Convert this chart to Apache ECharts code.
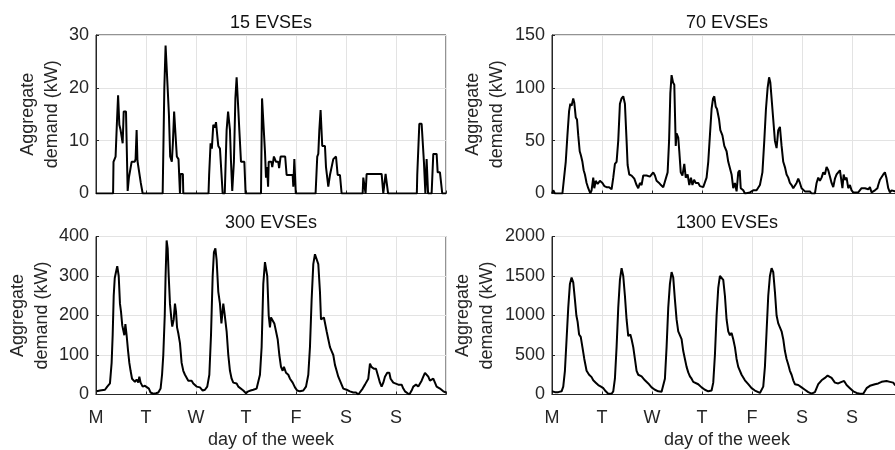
<!DOCTYPE html>
<html>
<head>
<meta charset="utf-8">
<script src="https://cdn.jsdelivr.net/npm/echarts@6/dist/echarts.min.js"></script>
<style>
html,body{margin:0;padding:0;background:#fff;}
#chart{width:895px;height:450px;}
</style>
</head>
<body>
<div id="chart"></div>
<script>
// x values are hours since Monday 00:00
const dayLabels = ['M', 'T', 'W', 'T', 'F', 'S', 'S'];
const panelTitles = ['15 EVSEs', '70 EVSEs', '300 EVSEs', '1300 EVSEs'];
const yMax = [30, 150, 400, 2000];
const yStep = [10, 50, 100, 500];

const demand15 = [
[0,0],[8.2,0],[8.4,6],[9.4,7],[10,13],[10.6,18.6],[11.2,13],[11.8,12],[12.4,12],[12.8,9.5],[13.3,15.5],[14.4,15.5],[14.8,8],[15.2,0.5],[15.8,3],[16.6,3],[17.1,6],[18.6,6],[19.0,6.5],[19.5,12],[19.9,6.2],[20.8,6],[21.5,2],[22.4,0],
[32,0],[32.8,20],[33.4,28],[34.2,28],[35,15],[35.6,7],[36.4,6],[36.9,9.5],[37.5,15.5],[38.3,15.5],[38.8,7],[39.6,6.5],[40.3,0],[40.6,3.7],[41.7,3.7],[41.9,0],
[54,0],[54.3,3.5],[55,9.5],[55.6,8.5],[56.3,13],[57.1,12.5],[57.6,13.5],[58.2,11],[58.7,9],[59.5,8.5],[60.8,0],[61.8,0],[62.7,12],[63.4,15.5],[64,15.5],[64.3,12],[64.8,6],[65.4,0.5],[66.2,6],[66.9,18],[67.5,22],[68.3,16],[68.8,12],[69.6,6],[71.2,6],[71.8,0],
[79.2,0],[79.7,18],[80.5,18],[81.1,8],[81.6,3],[82.1,5],[82.6,1.3],[82.9,6],[84.2,6],[84.6,5],[85.4,7],[86.4,6],[87.5,6],[87.9,4.8],[88.6,7],[90.8,7],[91.5,3.5],[94.4,3.5],[94.7,1.3],[95.2,6.5],[95.9,0],
[105.4,0],[106.2,7],[106.7,7.5],[107.2,12],[107.8,15.8],[108.6,9],[109.9,9],[110.4,5],[111.5,1.3],[112.3,3.5],[113.1,3.5],[113.9,6.5],[115.2,7],[116,3.5],[117.1,3.5],[117.9,0],
[128,0],[128.3,3],[129.1,3],[129.4,0],[129.9,3.7],[137.1,3.7],[137.9,0],[138.7,0],[139,3.7],[139.8,3.7],[140.2,0],
[154,0],[154.2,3.5],[155.2,13.2],[156.3,13.2],[157.4,6],[158.1,0],[158.7,6.5],[159.4,0],[161.1,0],[161.9,7.5],[163.5,7.5],[164,4],[165.1,4],[166.2,0],[168,0]
];

const demand70 = [
[0,0],[0.6,3],[1.4,0],[5.0,0],[5.8,15],[6.6,30],[7.4,55],[8.2,78],[8.8,85],[9.4,83],[10.2,90],[10.7,86],[11.4,72],[12.0,70],[12.6,55],[13.3,40],[13.9,36],[14.6,30],[15.2,22],[15.8,18],[16.6,10],[17.4,5],[18.4,0],
[19.0,3],[19.8,15],[20.3,5],[21.0,12],[21.9,9],[23.0,12],[24.2,10],[25.1,7],[26.2,6],[27.4,6],[28.6,4],[29.4,15],[30.2,28],[31.0,30],[31.8,50],[32.6,85],[33.4,90],[34.2,92],[35.0,85],[35.8,50],[36.3,27],[37.1,18],[38.2,17],[39.5,14],[40.6,8],[41.4,5],
[42.2,10],[43.0,8],[43.8,17],[45.4,17],[47.0,16],[48.6,20],[49.4,17],[50.2,12],[51.4,10],[52.3,8],[53.4,6],[54.2,5],[55.5,20],[56.2,50],[56.8,95],[57.4,112],[58.1,105],[58.7,103],[59.4,45],[59.8,57],[60.6,53],[61.1,40],[61.8,20],[62.6,17],[63.5,28],[64.2,15],[65.1,18],[65.9,8],[66.7,15],[67.4,8],[68.2,13],[69.0,10],[70.2,10],[71.0,7],[72.6,6],[73.4,6],
[74.2,15],[75.0,30],[75.8,55],[76.6,80],[77.3,90],[77.9,92],[78.6,82],[79.2,80],[80.2,70],[80.8,60],[81.8,55],[82.7,45],[83.8,40],[84.6,30],[86.2,18],[87.0,5],[87.8,10],[88.6,2],[89.4,20],[90.1,22],[90.6,5],[91.8,3],[92.6,0],[93.4,1],[95.0,1],[96.6,3],[98.2,3],[99.8,8],
[101.0,20],[101.9,50],[102.7,80],[103.5,100],[104.2,110],[104.8,105],[105.4,90],[106.2,70],[107.0,50],[107.8,43],[108.6,60],[109.4,63],[110.2,45],[111.0,30],[111.8,25],[112.6,18],[113.4,15],[114.2,10],[115.0,8],[115.8,5],[116.6,5],[117.4,10],[118.2,14],[119.0,10],[119.8,5],[121.4,2],[123.8,2],[124.6,0],
[126.2,0],[127.0,10],[127.8,15],[128.6,12],[129.4,15],[130.2,20],[131.0,18],[131.8,25],[132.6,22],[133.4,16],[134.2,10],[135.0,6],[135.8,14],[136.6,18],[137.4,20],[138.2,22],[138.7,15],[139.4,5],[140.0,18],[140.6,13],[141.4,15],[142.2,5],[143.0,8],[143.8,3],[144.6,1],
[147.0,1],[148.6,5],[150.2,5],[151.8,4],[152.6,6],[153.4,1],[155.0,3],[156.2,5],[156.6,8],[157.4,13],[158.2,12],[159.0,18],[159.8,20],[160.5,15],[161.4,5],[162.2,1],[163.0,3],[163.8,2],[164.6,2],[168,2]
];

const demand300 = [
[0.3,8],[1.9,10],[2.7,8],[4.3,12],[5.4,20],[6.7,28],[7.5,80],[8.0,150],[8.5,250],[9.0,295],[9.6,310],[10.2,325],[10.9,300],[11.5,230],[12.0,210],[12.6,175],[13.1,170],[13.6,150],[14.1,178],[14.7,150],[15.4,110],[16.0,80],[16.6,60],[17.3,40],[17.9,35],[18.7,32],[19.5,38],[20.3,30],[20.8,45],[21.4,30],[22.4,20],[23.5,22],[24.3,25],[25.4,15],[26.2,5],[27.5,2],[28.8,3],
[29.9,5],[31.0,15],[31.7,50],[32.3,100],[33.0,200],[33.4,300],[33.9,390],[34.4,370],[34.9,300],[35.5,230],[36.2,190],[36.6,172],[37.3,190],[37.9,230],[38.4,210],[38.9,170],[39.5,155],[40.3,130],[41.1,80],[41.9,60],[42.7,50],[43.5,45],[44.3,35],[45.1,40],[45.9,35],[46.7,28],[48.3,20],[49.9,18],[51.2,10],
[52.3,12],[53.4,20],[54.4,50],[55.2,150],[56.0,300],[56.6,360],[57.3,370],[57.9,340],[58.7,260],[59.5,230],[60.2,180],[60.6,175],[61.1,230],[61.6,210],[62.1,210],[62.7,160],[63.5,100],[64.3,60],[65.1,40],[65.9,30],[66.7,30],[67.5,28],[68.3,20],[69.1,15],[70.7,10],[72.0,3],[73.1,8],[74.2,10],[75.5,12],[77.1,15],
[77.9,20],[78.7,50],[79.5,120],[80.3,280],[81.1,335],[81.6,340],[82.2,300],[82.9,200],[83.5,170],[84.0,195],[84.8,190],[85.6,180],[86.4,160],[87.2,140],[88.0,100],[88.8,70],[89.6,60],[90.2,70],[91.2,55],[92.3,50],[93.1,40],[94.4,30],[95.5,18],[96.6,10],[97.9,8],[99.5,10],
[100.8,20],[101.9,50],[102.7,120],[103.5,240],[104.3,330],[105.1,355],[105.9,360],[106.7,330],[107.5,260],[108.0,190],[108.6,185],[109.4,195],[109.9,200],[110.7,160],[111.5,140],[112.3,120],[113.1,110],[113.9,100],[114.7,75],[115.5,60],[116.3,45],[117.1,35],[117.9,25],[118.7,15],[120.3,12],[121.9,8],[123.5,5],[124.8,5],[125.9,0],
[126.7,3],[128.0,15],[129.1,25],[129.9,25],[130.7,40],[131.5,78],[132.2,70],[132.8,75],[133.4,65],[134.4,65],[135.5,45],[136.3,30],[137.1,20],[137.9,30],[138.7,45],[139.8,55],[140.8,55],[141.4,40],[142.7,30],[143.5,25],[145.1,25],[145.9,20],[146.7,25],[147.5,15],[148.3,8],[149.1,5],[150.4,0],
[151.5,10],[152.3,20],[153.6,25],[154.7,20],[155.5,25],[156.3,35],[157.1,45],[157.9,55],[158.7,50],[159.5,45],[160.3,35],[161.9,40],[162.7,30],[163.5,20],[165.1,15],[166.7,8],[168,5]
];

const demand1300 = [
[0,40],[1.4,30],[3.0,30],[4.6,40],[5.4,100],[6.2,300],[7.0,700],[7.8,1100],[8.6,1400],[9.4,1480],[10.2,1420],[11.0,1200],[11.7,1000],[12.3,920],[13.0,760],[13.8,730],[14.6,600],[15.5,450],[16.6,300],[17.8,250],[19.0,220],[19.8,180],[21.0,150],[22.2,120],[23.5,100],[24.6,80],[25.8,40],[27.0,10],[28.6,10],
[29.4,40],[30.2,200],[31.0,600],[31.8,1100],[32.6,1450],[33.4,1600],[34.2,1500],[35.0,1250],[35.8,950],[36.6,740],[37.1,720],[37.6,760],[38.2,700],[39.0,600],[39.8,450],[40.6,300],[41.4,250],[42.2,240],[43.0,230],[44.6,180],[46.2,140],[47.8,90],[49.4,60],[51.0,40],[52.6,35],
[53.4,50],[54.2,200],[55.0,600],[55.8,1100],[56.6,1400],[57.4,1550],[58.2,1480],[59.0,1200],[59.8,950],[60.6,800],[61.4,780],[62.2,700],[63.0,550],[63.8,450],[64.6,350],[65.4,280],[66.2,230],[67.0,200],[67.8,160],[68.6,140],[70.2,130],[71.8,90],[73.4,60],[75.0,40],[76.6,50],
[77.4,150],[78.2,500],[79.0,1000],[79.8,1350],[80.6,1500],[81.4,1520],[82.2,1450],[83.0,1250],[83.8,950],[84.6,800],[85.4,750],[86.2,780],[87.0,700],[87.8,600],[88.6,450],[89.4,350],[91.0,250],[92.6,180],[94.2,130],[95.8,80],[97.4,50],[99.8,20],[100.6,30],
[101.4,100],[102.2,350],[103.0,800],[103.8,1250],[104.6,1500],[105.4,1600],[106.2,1550],[107.0,1300],[107.8,1000],[108.6,900],[109.4,850],[110.2,800],[111.0,700],[111.8,550],[112.6,450],[113.4,380],[114.2,300],[115.0,250],[115.8,180],[116.6,130],[118.2,120],[119.8,90],[121.4,60],[123.0,30],[124.6,10],[125.4,5],
[126.2,30],[127.0,80],[127.8,130],[129.4,180],[131.0,210],[132.3,240],[133.0,220],[134.2,210],[135.8,150],[137.4,140],[139.0,160],[140.2,170],[141.4,120],[143.0,80],[144.6,40],[146.2,20],[147.8,10],[149.4,10],
[151.0,80],[152.6,110],[155.0,130],[156.6,140],[158.2,160],[159.0,180],[160.6,170],[162.2,160],[163.8,150],[164.6,120],[168,110]
];

const seriesData = [demand15, demand70, demand300, demand1300];

const FONT = 'Liberation Sans, Arial, Helvetica, sans-serif';
const AX = '#262626';
const GRIDC = '#e3e3e3';

const grids = [
  {left: 96, top: 35, width: 350, height: 158.5},
  {left: 552, top: 35, width: 350, height: 158.5},
  {left: 96, top: 236.5, width: 350, height: 158},
  {left: 552, top: 236.5, width: 350, height: 158}
];
const nameGaps = [32, 43, 42, 53];

const option = {
  animation: false,
  backgroundColor: '#fff',
  textStyle: {fontFamily: FONT},
  grid: grids.map(g => Object.assign({show: true, borderColor: AX, borderWidth: 1, backgroundColor: 'transparent', outerBoundsMode: 'none', containLabel: false}, g)),
  graphic: panelTitles.map((t, i) => ({
    type: 'text',
    x: grids[i].left + 175,
    y: i < 2 ? 23 : 223,
    style: {text: t, font: '18px ' + FONT, fill: '#111', align: 'center', verticalAlign: 'middle'}
  })),
  xAxis: [0, 1, 2, 3].map(i => ({
    type: 'value', gridIndex: i, min: 0, max: 168, interval: 24,
    axisLine: {show: true, lineStyle: {color: AX, width: 1}},
    axisTick: {show: true, inside: true, length: 3, lineStyle: {color: AX}},
    splitLine: {show: true, lineStyle: {color: GRIDC, width: 1}},
    axisLabel: {
      show: i >= 2, margin: 15, fontSize: 18, color: AX, fontFamily: FONT,
      formatter: v => (v < 168 ? dayLabels[Math.round(v / 24)] : '')
    },
    name: i >= 2 ? 'day of the week' : '',
    nameLocation: 'middle', nameGap: 37,
    nameTextStyle: {fontSize: 18, color: AX, fontFamily: FONT}
  })),
  yAxis: [0, 1, 2, 3].map(i => ({
    type: 'value', gridIndex: i, min: 0, max: yMax[i], interval: yStep[i],
    axisLine: {show: true, lineStyle: {color: AX, width: 1}},
    axisTick: {show: true, inside: true, length: 3, lineStyle: {color: AX}},
    splitLine: {show: true, lineStyle: {color: GRIDC, width: 1}},
    axisLabel: {margin: 7, fontSize: 18, color: AX, fontFamily: FONT, formatter: v => String(v)},
    name: 'Aggregate\ndemand (kW)',
    nameLocation: 'middle', nameRotate: 90, nameGap: nameGaps[i],
    nameTextStyle: {fontSize: 18, lineHeight: 24, color: AX, fontFamily: FONT, align: 'center'}
  })),
  series: seriesData.map((d, i) => ({
    type: 'line', xAxisIndex: i, yAxisIndex: i, data: d,
    showSymbol: false, symbol: 'none', clip: true,
    lineStyle: {color: '#000', width: 2},
    z: 5
  }))
};

const chart = echarts.init(document.getElementById('chart'), null, {renderer: 'canvas'});
chart.setOption(option);
</script>
</body>
</html>
